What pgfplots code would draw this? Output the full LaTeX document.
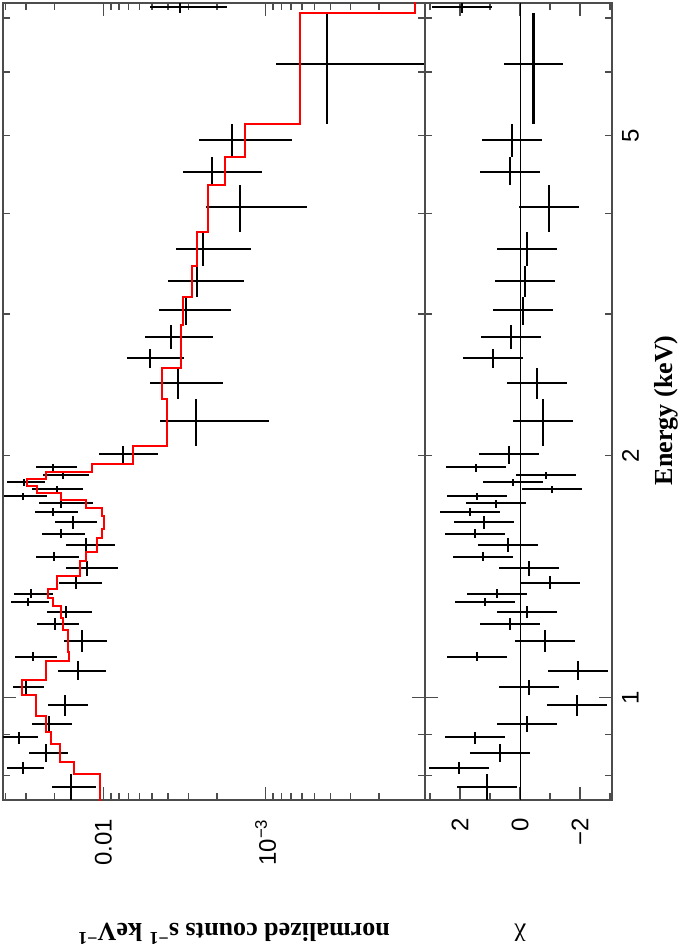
\documentclass[border=0pt]{standalone}
\usepackage{fontspec}
\setmainfont{Liberation Serif}
\setsansfont{Liberation Sans}
\usepackage{pgfplots}
\usepackage{pgfplotstable}
\pgfplotsset{compat=1.18}

\definecolor{frame}{gray}{0.3}

% energy bin (centre, low, high edge), counts with error range, residual chi
\pgfplotstableread{
E      Elo    Ehi    C         Cdn       Cup       R
7.23   7.107  7.305  3.37e-3   1.73e-3   5.16e-3   1.94
6.14   5.171  7.107  4.21e-4   1.05e-4   8.64e-4   -0.45
4.94   4.705  5.171  1.612e-3  6.89e-4   2.574e-3  0.28
4.507  4.342  4.705  2.142e-3  1.054e-3  3.229e-3  0.33
4.077  3.795  4.342  1.440e-3  5.57e-4   2.331e-3  -0.97
3.614  3.443  3.795  2.432e-3  1.231e-3  3.566e-3  -0.23
3.299  3.150  3.443  2.649e-3  1.360e-3  3.996e-3  -0.17
3.035  2.909  3.150  3.095e-3  1.635e-3  4.540e-3  -0.10
2.810  2.715  2.909  3.829e-3  2.111e-3  5.536e-3  0.30
2.646  2.571  2.715  5.158e-3  3.184e-3  7.146e-3  0.90
2.463  2.352  2.571  3.467e-3  1.832e-3  5.158e-3  -0.57
2.209  2.057  2.352  2.686e-3  9.54e-4   4.476e-3  -0.77
2.010  1.953  2.057  7.562e-3  4.604e-3  1.063e-2  0.37
1.936  1.909  1.953  2.040e-2  1.452e-2  2.597e-2  1.48
1.892  1.871  1.909  1.771e-2  1.225e-2  2.351e-2  -0.87
1.855  1.834  1.871  3.078e-2  2.286e-2  3.917e-2  0.23
1.818  1.797  1.834  1.928e-2  1.334e-2  2.748e-2  -1.07
1.782  1.762  1.797  3.122e-2  2.222e-2  4.087e-2  1.43
1.746  1.722  1.762  1.822e-2  1.157e-2  2.488e-2  0.81
1.702  1.683  1.722  2.040e-2  1.432e-2  2.634e-2  1.67
1.654  1.621  1.683  1.537e-2  1.093e-2  1.983e-2  1.20
1.598  1.580  1.621  1.822e-2  1.296e-2  2.385e-2  1.50
1.549  1.518  1.580  1.278e-2  8.47e-3   1.697e-2  0.40
1.496  1.479  1.518  2.012e-2  1.412e-2  2.597e-2  1.23
1.450  1.417  1.479  1.260e-2  8.12e-3   1.697e-2  -0.30
1.389  1.365  1.417  1.473e-2  1.019e-2  1.874e-2  -1.00
1.346  1.331  1.365  2.788e-2  2.040e-2  3.548e-2  0.77
1.315  1.300  1.331  2.909e-2  2.160e-2  3.701e-2  1.17
1.278  1.256  1.300  1.697e-2  1.174e-2  2.222e-2  -0.23
1.235  1.214  1.256  1.983e-2  1.412e-2  2.561e-2  0.33
1.176  1.140  1.214  1.353e-2  9.49e-3   1.746e-2  -0.83
1.124  1.111  1.140  2.710e-2  1.928e-2  3.498e-2  1.43
1.079  1.052  1.111  1.432e-2  9.62e-3   1.901e-2  -1.93
1.031  1.008  1.052  2.992e-2  2.318e-2  3.597e-2  -0.30
0.979  0.949  1.008  1.721e-2  1.242e-2  2.191e-2  -1.90
0.927  0.906  0.949  2.160e-2  1.559e-2  2.748e-2  -0.23
0.894  0.876  0.906  3.304e-2  2.524e-2  4.146e-2  1.50
0.853  0.832  0.876  2.253e-2  1.650e-2  2.868e-2  0.67
0.818  0.804  0.832  3.122e-2  2.318e-2  3.917e-2  2.03
0.774  0.747  0.804  1.580e-2  1.109e-2  2.070e-2  1.10
}\spec

\pgfplotsset{
  xbars/.style={only marks, mark=none, mark size=0pt,
    error bars/x dir=both, error bars/x explicit,
    error bars/error mark=none,
    error bars/error bar style={draw=black, solid, line width=2.2pt}},
  ybars/.style={only marks, mark=none, mark size=0pt,
    error bars/y dir=both, error bars/y explicit,
    error bars/error mark=none,
    error bars/error bar style={draw=black, solid, line width=2.2pt}},
}

\begin{document}
\begin{tikzpicture}
\begin{axis}[
  scale only axis, width=422pt, height=797pt,
  at={(0pt,0pt)}, anchor=south west,
  xmode=log, ymode=log, x dir=reverse,
  xmin=1.045e-4, xmax=0.0415, ymin=0.746, ymax=7.31,
  axis line style={draw=frame, line width=1.5pt},
  tick style={draw=frame, line width=1.5pt},
  major tick length=13pt, minor tick length=7pt,
  tick label style={font=\sffamily\fontsize{24}{28}\selectfont},
  xtick pos=both, ytick pos=both,
  xtick={1e-3,1e-2}, xticklabels={10\textsuperscript{\textminus3}, 0.01},
  minor xtick={2e-4,3e-4,4e-4,5e-4,6e-4,7e-4,8e-4,9e-4,2e-3,3e-3,4e-3,5e-3,6e-3,7e-3,8e-3,9e-3,2e-2,3e-2,4e-2},
  ytick={1}, yticklabels={}, minor ytick={0.8,0.9,2,3,4,5,6,7},
  xticklabel style={rotate=90, anchor=east, inner sep=0pt},
  xticklabel shift=19pt,
  xlabel={normalized counts s\textsuperscript{\textminus1} keV\textsuperscript{\textminus1}},
  xlabel style={at={(axis description cs:0.547,-0.168)}, anchor=center, rotate=180,
    font=\bfseries\fontsize{26}{30}\selectfont},
]
\addplot[xbars] table[x=C, y=E,
  x error plus expr=\thisrow{Cup}-\thisrow{C},
  x error minus expr=\thisrow{C}-\thisrow{Cdn}] {\spec};
\addplot[ybars] table[x=C, y=E,
  y error plus expr=\thisrow{Ehi}-\thisrow{E},
  y error minus expr=\thisrow{E}-\thisrow{Elo}] {\spec};
% folded model, one step per bin
\addplot[red, line width=2.3pt] coordinates {
  (1.048e-2,0.73) (1.048e-2,0.804) (1.515e-2,0.804) (1.515e-2,0.832)
  (1.847e-2,0.832) (1.847e-2,0.876) (2.099e-2,0.876) (2.099e-2,0.906)
  (2.253e-2,0.906) (2.253e-2,0.949) (2.597e-2,0.949) (2.597e-2,1.008)
  (3.166e-2,1.008) (3.166e-2,1.052) (2.253e-2,1.052) (2.253e-2,1.111)
  (1.626e-2,1.111) (1.626e-2,1.140) (1.650e-2,1.140) (1.650e-2,1.214)
  (1.771e-2,1.214) (1.771e-2,1.256) (1.822e-2,1.256) (1.822e-2,1.300)
  (2.040e-2,1.300) (2.040e-2,1.331) (2.191e-2,1.331) (2.191e-2,1.365)
  (1.928e-2,1.365) (1.928e-2,1.417) (1.392e-2,1.417) (1.392e-2,1.479)
  (1.278e-2,1.479) (1.278e-2,1.518) (1.093e-2,1.518) (1.093e-2,1.580)
  (1.019e-2,1.580) (1.019e-2,1.621) (9.90e-3,1.621) (9.90e-3,1.683)
  (1.019e-2,1.683) (1.019e-2,1.722) (1.278e-2,1.722) (1.278e-2,1.762)
  (1.822e-2,1.762) (1.822e-2,1.797) (2.561e-2,1.797) (2.561e-2,1.834)
  (2.950e-2,1.834) (2.950e-2,1.871) (2.253e-2,1.871) (2.253e-2,1.909)
  (1.174e-2,1.909) (1.174e-2,1.953) (6.565e-3,1.953) (6.565e-3,2.057)
  (4.053e-3,2.057) (4.053e-3,2.352) (4.350e-3,2.352) (4.350e-3,2.571)
  (3.322e-3,2.571) (3.322e-3,2.909) (3.229e-3,2.909) (3.229e-3,3.150)
  (2.843e-3,3.150) (2.843e-3,3.443) (2.649e-3,3.443) (2.649e-3,3.795)
  (2.266e-3,3.795) (2.266e-3,4.342) (1.781e-3,4.342) (1.781e-3,4.705)
  (1.341e-3,4.705) (1.341e-3,5.171) (6.15e-4,5.171) (6.15e-4,7.107)
  (1.204e-4,7.107) (1.204e-4,7.6)
};
\end{axis}

\begin{axis}[
  scale only axis, width=187pt, height=797pt,
  at={(422pt,0pt)}, anchor=south west,
  ymode=log, x dir=reverse,
  xmin=-3.07, xmax=3.17, ymin=0.746, ymax=7.31,
  axis line style={draw=frame, line width=1.5pt},
  tick style={draw=frame, line width=1.5pt},
  major tick length=13pt, minor tick length=7pt,
  tick label style={font=\sffamily\fontsize{24}{28}\selectfont},
  xtick pos=both, ytick pos=both,
  xtick={-2,0,2}, xticklabels={\textminus2,0,2}, minor xtick={-3,-1,1,3},
  ytick={1}, yticklabels={1}, minor ytick={0.8,0.9,3,4,6,7},
  extra y ticks={2,5}, extra y tick labels={2,5},
  extra y tick style={major tick length=7pt},
  yticklabel pos=right,
  yticklabel style={rotate=90, anchor=north, inner sep=0pt}, yticklabel shift=10pt,
  xticklabel style={rotate=90, anchor=east, inner sep=0pt}, xticklabel shift=18pt,
  ylabel={Energy (keV)},
  ylabel style={at={(axis description cs:1.289,0.489)}, anchor=center,
    font=\bfseries\fontsize{26}{30}\selectfont},
  xlabel={χ},
  xlabel style={at={(axis description cs:0.508,-0.166)}, anchor=center, rotate=180,
    font=\fontsize{26}{30}\selectfont},
]
\addplot[black, line width=1pt] coordinates {(0,0.746) (0,7.31)};
\addplot[xbars] table[x=R, y=E, x error expr=1] {\spec};
\addplot[ybars] table[x=R, y=E,
  y error plus expr=\thisrow{Ehi}-\thisrow{E},
  y error minus expr=\thisrow{E}-\thisrow{Elo}] {\spec};
\end{axis}

\pgfresetboundingbox
\path[use as bounding box] (-3pt,-150pt) rectangle (675pt,800pt);
\end{tikzpicture}
\end{document}
